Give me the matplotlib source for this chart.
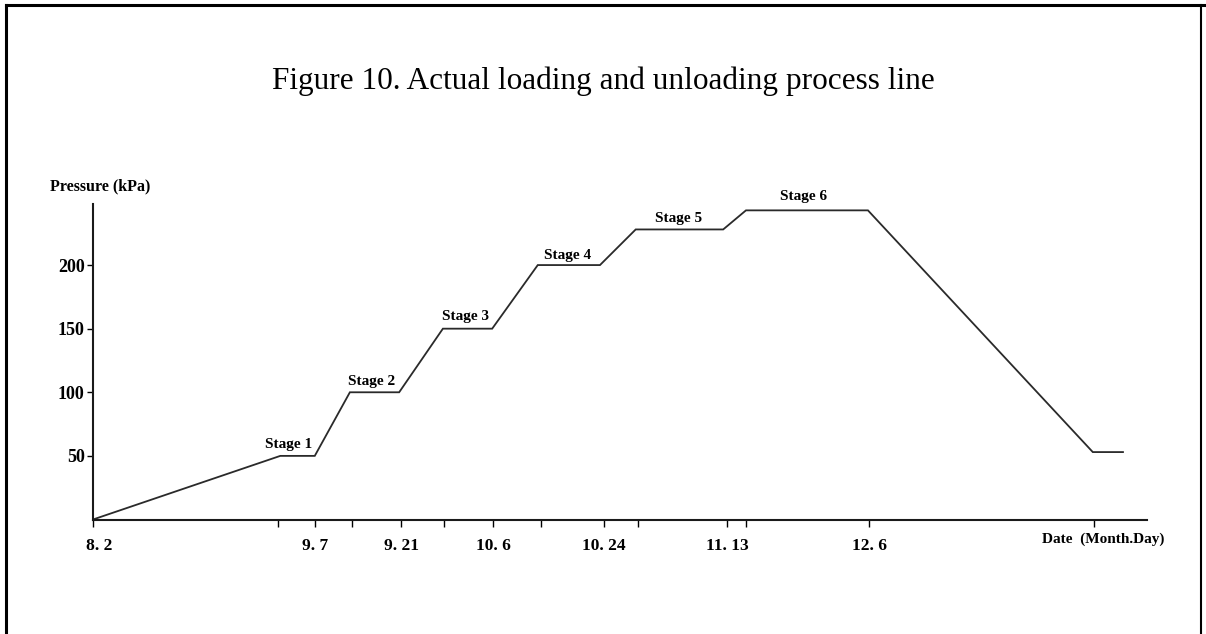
import matplotlib.pyplot as plt
from matplotlib.lines import Line2D
from matplotlib.transforms import ScaledTranslation

# days counted from 8.2 (Aug 2)
days = [0, 30.4, 36, 41.7, 49.7, 56.8, 64.8, 72.2, 82.3, 88.1, 102.3, 106, 125.8, 162.3, 167.2]
pressure = [0, 50, 50, 100, 100, 150, 150, 200, 200, 228, 228, 243, 243, 53, 53]

tick_days = [0, 36, 50, 65, 83, 103, 126]
tick_labels = ["8. 2", "9. 7", "9. 21", "10. 6", "10. 24", "11. 13", "12. 6"]
minor_days = [30, 42, 57, 72.7, 88.5, 106, 162.5]

y_ticks = [50, 100, 150, 200]

stage_names = ["Stage 1", "Stage 2", "Stage 3", "Stage 4", "Stage 5", "Stage 6"]
stage_x = [31.7, 45.2, 60.5, 77.1, 95.0, 115.3]
stage_y = [58.7, 108.3, 159.4, 207.5, 236.6, 253.9]

W, H = 1206, 634
fig = plt.figure(figsize=(W / 100, H / 100), dpi=100)
serif = "Liberation Serif"

# page frame (open at the bottom)
fig.add_artist(Line2D([5.5 / W, 5.5 / W], [0, 1 - 5 / H], color="black", lw=2.2))
fig.add_artist(Line2D([5.5 / W, 1], [1 - 5 / H, 1 - 5 / H], color="black", lw=2.2))
fig.add_artist(Line2D([1201 / W, 1201 / W], [0, 1 - 5 / H], color="black", lw=1.5))

fig.text(0.5, 1 - 81 / H, "Figure 10. Actual loading and unloading process line",
         ha="center", va="center", fontsize=22.5, family=serif)

left, right = 93 / W, 1147 / W
bottom, top = 1 - 519.5 / H, 1 - 204 / H
ax = fig.add_axes([left, bottom, right - left, top - bottom])
ax.plot(days, pressure, color="#2a2a2a", lw=1.3, solid_joinstyle="miter")

ax.set_xlim(0, 171.1)
ax.set_ylim(0, 248)
for s in ["top", "right"]:
    ax.spines[s].set_visible(False)
for s in ["left", "bottom"]:
    ax.spines[s].set_linewidth(1.5)
    ax.spines[s].set_color("#1a1a1a")

ax.set_xticks(tick_days)
ax.set_xticklabels(tick_labels, fontsize=12.5, fontweight="bold", family=serif)
ax.set_xticks(minor_days, minor=True)
ax.tick_params(axis="x", which="both", direction="out", length=5, width=1, pad=8)
# first label sits a little right of the origin
first = ax.get_xticklabels()[0]
first.set_transform(first.get_transform() + ScaledTranslation(6 / 100, 0, fig.dpi_scale_trans))

ax.set_yticks(y_ticks)
ax.set_yticklabels([str(v) for v in y_ticks], fontsize=13, fontweight="bold", family=serif)
ax.tick_params(axis="y", direction="out", length=4, width=1, pad=2)

for name, x, y in zip(stage_names, stage_x, stage_y):
    ax.text(x, y, name, ha="center", va="center", fontsize=11, fontweight="bold",
            family=serif, clip_on=False)

fig.text(50 / W, 1 - 186 / H, "Pressure (kPa)", ha="left", va="center",
         fontsize=11.5, fontweight="bold", family=serif)
fig.text(1103 / W, 1 - 539 / H, "Date  (Month.Day)", ha="center", va="center",
         fontsize=11, fontweight="bold", family=serif)

fig.savefig("out.png", dpi=100)
